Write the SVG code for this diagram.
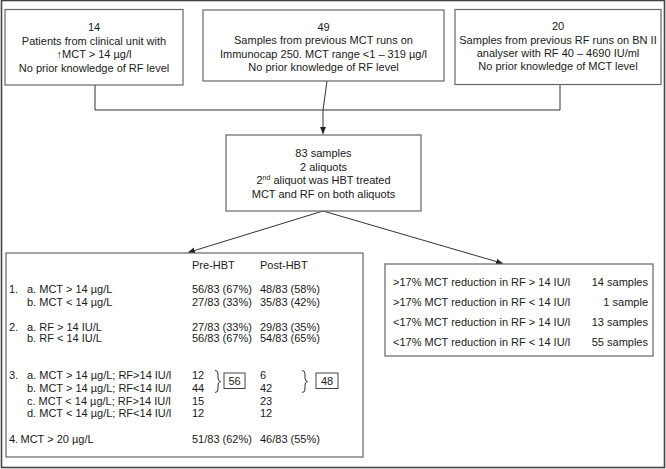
<svg xmlns="http://www.w3.org/2000/svg" width="666" height="469" viewBox="0 0 666 469">
<defs>
<style>
text{font-family:"Liberation Sans",Arial,sans-serif;font-size:11px;fill:#1a1a1a}
.c{text-anchor:middle}
.e{text-anchor:end}
.box{fill:#fff;stroke:#666;stroke-width:1.2}
.ln{fill:none;stroke:#333;stroke-width:1}
.sm{fill:none;stroke:#444;stroke-width:1}
</style>
<marker id="ah" markerWidth="8" markerHeight="8" refX="7" refY="4" orient="auto" markerUnits="userSpaceOnUse">
<path d="M0,1 L7,4 L0,7 Z" fill="#222"/>
</marker>
</defs>
<rect x="0" y="0" width="666" height="469" fill="#fff"/>
<rect x="1.5" y="0.5" width="663" height="467" fill="none" stroke="#444" stroke-width="1.6"/>

<g id="connectors">
<polyline class="ln" points="95,85 95,110 560,110 560,84"/>
<polyline class="ln" points="327,81 323,110 323,134" marker-end="url(#ah)"/>
<line class="ln" x1="323" y1="211" x2="188" y2="252.5" marker-end="url(#ah)"/>
<line class="ln" x1="323" y1="211" x2="503" y2="263.5" marker-end="url(#ah)"/>
</g>

<g id="box1">
<rect class="box" x="5" y="9.5" width="178" height="75.5"/>
<text class="c" x="94" y="30.5">14</text>
<text class="c" x="94" y="44.5">Patients from clinical unit with</text>
<text class="c" x="94" y="57.5">↑MCT &gt; 14 µg/l</text>
<text class="c" x="94" y="71.5">No prior knowledge of RF level</text>
</g>

<g id="box2">
<rect class="box" x="203" y="10" width="241" height="71"/>
<text class="c" x="323.5" y="30.5">49</text>
<text class="c" x="323.5" y="44">Samples from previous MCT runs on</text>
<text class="c" x="323.5" y="57.5">Immunocap 250. MCT range &lt;1 – 319 µg/l</text>
<text class="c" x="323.5" y="70.5">No prior knowledge of RF level</text>
</g>

<g id="box3">
<rect class="box" x="455" y="9.5" width="206" height="75"/>
<text class="c" x="558" y="30">20</text>
<text class="c" x="558" y="43.5">Samples from previous RF runs on BN II</text>
<text class="c" x="558" y="56.5">analyser with RF 40 – 4690 IU/ml</text>
<text class="c" x="558" y="70">No prior knowledge of MCT level</text>
</g>

<g id="box4">
<rect class="box" x="226" y="135" width="195" height="76"/>
<text class="c" x="323.5" y="157">83 samples</text>
<text class="c" x="323.5" y="170.5">2 aliquots</text>
<text class="c" x="323.5" y="184">2<tspan font-size="7" dy="-4">nd</tspan><tspan dy="4"> aliquot was HBT treated</tspan></text>
<text class="c" x="323.5" y="197.5">MCT and RF on both aliquots</text>
</g>

<g id="results">
<rect class="box" x="6" y="253" width="357" height="204"/>
<text x="192" y="269">Pre-HBT</text>
<text x="260" y="269">Post-HBT</text>

<text x="9" y="293">1.</text>
<text x="27" y="293">a. MCT &gt; 14 µg/L</text>
<text x="192" y="293">56/83 (67%)</text>
<text x="260" y="293">48/83 (58%)</text>
<text x="27" y="305.5">b. MCT &lt; 14 µg/L</text>
<text x="192" y="305.5">27/83 (33%)</text>
<text x="260" y="305.5">35/83 (42%)</text>

<text x="9" y="330.5">2.</text>
<text x="27" y="330.5">a. RF &gt; 14 IU/L</text>
<text x="192" y="330.5">27/83 (33%)</text>
<text x="260" y="330.5">29/83 (35%)</text>
<text x="27" y="342">b. RF &lt; 14 IU/L</text>
<text x="192" y="342">56/83 (67%)</text>
<text x="260" y="342">54/83 (65%)</text>

<text x="9" y="379">3.</text>
<text x="27" y="379">a. MCT &gt; 14 µg/L; RF&gt;14 IU/l</text>
<text x="27" y="392">b. MCT &gt; 14 µg/L; RF&lt;14 IU/l</text>
<text x="27" y="404.5">c. MCT &lt; 14 µg/L; RF&gt;14 IU/l</text>
<text x="27" y="417">d. MCT &lt; 14 µg/L; RF&lt;14 IU/l</text>
<text x="192" y="379">12</text>
<text x="192" y="392">44</text>
<text x="192" y="404.5">15</text>
<text x="192" y="417">12</text>
<text x="260" y="379">6</text>
<text x="260" y="392">42</text>
<text x="260" y="404.5">23</text>
<text x="260" y="417">12</text>
<path class="ln" d="M215,370.5 Q218,370.5 218,374 L218,378 Q218,381 220.5,381.5 Q218,382 218,385 L218,389 Q218,392.5 215,392.5"/>
<rect class="sm" x="224" y="373" width="21" height="15.5"/>
<text class="c" x="234.5" y="384.5">56</text>
<path class="ln" d="M302,370.5 Q305,370.5 305,374 L305,378 Q305,381 307.5,381.5 Q305,382 305,385 L305,389 Q305,392.5 302,392.5"/>
<rect class="sm" x="316" y="373" width="22" height="15.5"/>
<text class="c" x="327" y="384.5">48</text>

<text x="9" y="443">4.</text>
<text x="20.5" y="443">MCT &gt; 20 µg/L</text>
<text x="192" y="443">51/83 (62%)</text>
<text x="260" y="443">46/83 (55%)</text>
</g>

<g id="reduction">
<rect class="box" x="385" y="264" width="268" height="92"/>
<text x="393" y="285.5">&gt;17% MCT reduction in RF &gt; 14 IU/l</text>
<text class="e" x="648" y="285.5">14 samples</text>
<text x="393" y="305.5">&gt;17% MCT reduction in RF &lt; 14 IU/l</text>
<text class="e" x="648" y="305.5">1 sample</text>
<text x="393" y="325.5">&lt;17% MCT reduction in RF &gt; 14 IU/l</text>
<text class="e" x="648" y="325.5">13 samples</text>
<text x="393" y="345.5">&lt;17% MCT reduction in RF &lt; 14 IU/l</text>
<text class="e" x="648" y="345.5">55 samples</text>
</g>
</svg>
